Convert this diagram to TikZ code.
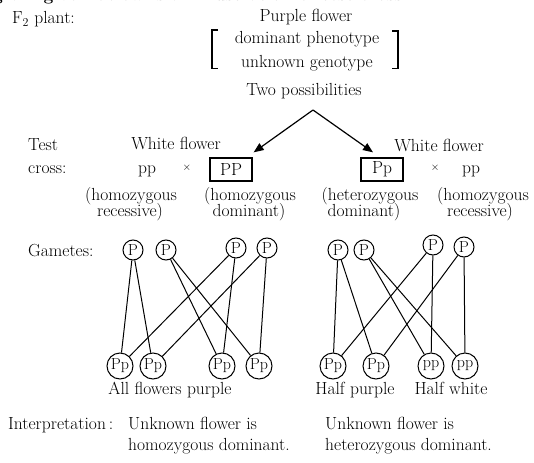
\documentclass[tikz,border=0pt]{standalone}
\usetikzlibrary{arrows.meta,calc}
\begin{document}
\begin{tikzpicture}[x=1pt,y=-1pt,
  every node/.style={font=\fontsize{17.5}{20}\selectfont, inner sep=0pt},
  lbl/.style={anchor=base west},
  ctr/.style={anchor=base},
  gbox/.style={draw, line width=1.3pt, minimum width=42pt, minimum height=23pt},
  gamete/.style={draw, circle, line width=1pt, minimum size=20pt, font=\fontsize{16}{16}\selectfont},
  zygote/.style={draw, circle, line width=1pt, minimum size=26pt, font=\fontsize{16}{16}\selectfont},
  timesign/.style={anchor=base, font=\fontsize{11}{11}\selectfont},
  pairing/.style={line width=1pt},
  bracket/.style={line width=1.3pt},
  pick/.style={line width=1.2pt, -{Triangle[length=10pt,width=8pt]}}]
\useasboundingbox (0,0) rectangle (534,462);

% heading line, partly cut by the top edge
\begin{scope}
  \clip (0,0) rectangle (534,462);
  \node[anchor=base east, font=\fontsize{17.5}{20}\selectfont\bfseries] (heading) at (408,0.5)
    {Diagram given below is an illustration of test cross.};
\end{scope}

% F2 plant with unknown genotype
\node[lbl] (f2) at (12,23.5) {F$_2$ plant:};
\node[ctr] (purple) at (306,21.5) {Purple flower};
\node[ctr] (domph) at (307,44) {dominant phenotype};
\node[ctr] (unkgen) at (307,68) {unknown genotype};
\draw[bracket] (218,30) -| (212,68.5) -- (218,68.5);
\draw[bracket] (392,31) -| (398,68.5) -- (392,68.5);
\node[ctr] (two) at (304,95.5) {Two possibilities};
\coordinate (fork) at (313,110);

% left test cross
\node[lbl] (test) at (28,150.5) {Test};
\node[lbl] (crosslbl) at (28,174) {cross:};
\node[ctr] (whiteL) at (176,150) {White flower};
\node[ctr] (ppL) at (147,174) {pp};
\node[timesign] (xL) at (187,171) {$\times$};
\node[gbox] (boxL) at (231,169.5) {PP};
\node[ctr] (homL) at (131,200) {(homozygous};
\node[ctr] (recL) at (130,216.5) {recessive)};
\node[ctr] (homL2) at (250,200) {(homozygous};
\node[ctr] (domL) at (249,216.5) {dominant)};

% right test cross
\node[ctr] (whiteR) at (439,151.5) {White flower};
\node[gbox] (boxR) at (382,169.5) {Pp};
\node[timesign] (xR) at (435,171) {$\times$};
\node[ctr] (ppR) at (471,174) {pp};
\node[ctr] (hetR) at (370,200) {(heterozygous};
\node[ctr] (domR) at (364,216.5) {dominant)};
\node[ctr] (homR) at (483,200) {(homozygous};
\node[ctr] (recR) at (480,216.5) {recessive)};

% the two possibilities
\draw[pick] (fork) -- ($(boxL.north east)+(1,-5)$);
\draw[pick] (fork) -- ($(boxR.north)+(-9,-5)$);

% gametes
\node[lbl] (gam) at (28,256) {Gametes:};
\node[gamete] (a1) at (133,250) {P};
\node[gamete] (a2) at (166,250) {P};
\node[gamete] (a3) at (236,248) {P};
\node[gamete] (a4) at (267,248) {P};
\node[gamete] (b1) at (338,250) {P};
\node[gamete] (b2) at (364,250) {P};
\node[gamete] (b3) at (433,245) {P};
\node[gamete] (b4) at (464,247) {P};

% offspring
\node[zygote] (o1) at (120,366) {Pp};
\node[zygote] (o2) at (153,366) {Pp};
\node[zygote] (o3) at (222,366) {Pp};
\node[zygote] (o4) at (259,366) {Pp};
\node[zygote] (q1) at (333,366) {Pp};
\node[zygote] (q2) at (376,366) {Pp};
\node[zygote] (q3) at (431,366) {pp};
\node[zygote] (q4) at (465,366) {pp};

\foreach \g/\z in {a1/o1,a1/o2,a2/o3,a2/o4,a3/o1,a3/o3,a4/o2,a4/o4,
                   b1/q1,b1/q2,b2/q3,b2/q4,b3/q1,b3/q3,b4/q2,b4/q4}
  \draw[pairing] (\g) -- (\z);

% results and interpretation
\node[ctr] (allp) at (170,394) {All flowers purple};
\node[ctr] (halfp) at (355,394) {Half purple};
\node[ctr] (halfw) at (451,394) {Half white};
\node[lbl] (interp) at (8,429) {Interpretation\,:};
\node[lbl] (unkL) at (128,429) {Unknown flower is};
\node[lbl] (homd) at (128,450.5) {homozygous dominant.};
\node[lbl] (unkR) at (325,429) {Unknown flower is};
\node[lbl] (hetd) at (325,450.5) {heterozygous dominant.};
\end{tikzpicture}
\end{document}
